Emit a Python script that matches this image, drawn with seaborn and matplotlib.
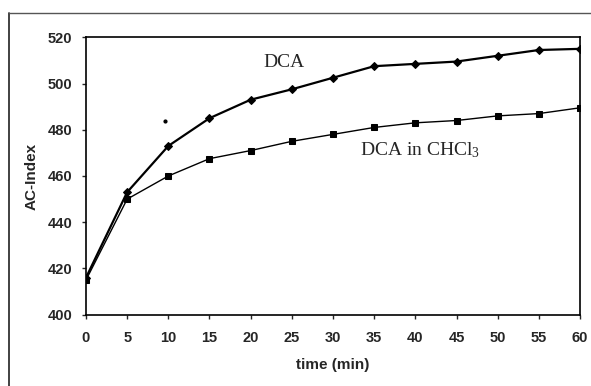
import pandas as pd
import matplotlib
matplotlib.use("Agg")
import matplotlib.pyplot as plt
import seaborn as sns
from matplotlib.lines import Line2D

# Values
time_min = [0, 5, 10, 15, 20, 25, 30, 35, 40, 45, 50, 55, 60]
dca = [416, 453, 473, 485, 493, 497.5, 502.5, 507.5, 508.5, 509.5, 512, 514.5, 515]
dca_chcl3 = [415, 450, 460, 467.5, 471, 475, 478, 481, 483, 484, 486, 487, 489.5]
# a speck on the original scan
speck_t = [9.6]
speck_v = [484]

x_ticks = list(range(0, 61, 5))
y_ticks = list(range(400, 521, 20))

sns.set_theme(style="white")
plt.rcParams['font.family'] = ['Liberation Sans', 'DejaVu Sans']
plt.rcParams['mathtext.fontset'] = 'custom'
plt.rcParams['mathtext.rm'] = 'Liberation Serif'
plt.rcParams['mathtext.it'] = 'Liberation Serif:italic'

fig = plt.figure(figsize=(5.91, 3.86), dpi=100)
ax = fig.add_axes([0.1455, 0.1847, 0.8359, 0.7187])

df = pd.DataFrame({'time': time_min, 'DCA': dca, 'CHCl3': dca_chcl3})

sns.lineplot(data=df, x='time', y='DCA', ax=ax, color='black', linewidth=1.6,
             marker='D', markersize=4.5, markeredgecolor='black')
sns.lineplot(data=df, x='time', y='CHCl3', ax=ax, color='black', linewidth=1.0,
             marker='s', markersize=4.5, markeredgecolor='black')
ax.scatter(speck_t, speck_v, s=4, color='black', zorder=3)

ax.set_xlim(0, 60)
ax.set_ylim(400, 520)
ax.set_xticks(x_ticks)
ax.set_yticks(y_ticks)
ax.tick_params(axis='both', which='both', direction='out', length=3, width=1,
               labelsize=10.5, bottom=True, left=True)
ax.tick_params(axis='x', pad=9)
ax.tick_params(axis='y', pad=7)
for lbl in ax.get_xticklabels() + ax.get_yticklabels():
    lbl.set_fontweight('bold')

for side in ['top', 'right', 'bottom', 'left']:
    ax.spines[side].set_visible(True)
    ax.spines[side].set_color('black')
    ax.spines[side].set_linewidth(1.2)

ax.set_xlabel('time (min)', fontsize=11, fontweight='bold', labelpad=9)
ax.set_ylabel('AC-Index', fontsize=11, fontweight='bold', labelpad=6)

ax.text(24, 509, 'DCA', fontsize=14, family=['Liberation Serif'],
        ha='center', va='center')
ax.text(40.6, 471, r'DCA in CHCl$_3$', fontsize=14, family=['Liberation Serif'],
        ha='center', va='center')

# frame around the chart area (cut off at right and bottom in the scan)
fig.add_artist(Line2D([9 / 591, 9 / 591], [0, 1 - 13 / 386], transform=fig.transFigure,
                      color='#333333', linewidth=1.3))
fig.add_artist(Line2D([9 / 591, 1], [1 - 13 / 386, 1 - 13 / 386], transform=fig.transFigure,
                      color='#555555', linewidth=1.0))

fig.savefig('out.png', dpi=100)
